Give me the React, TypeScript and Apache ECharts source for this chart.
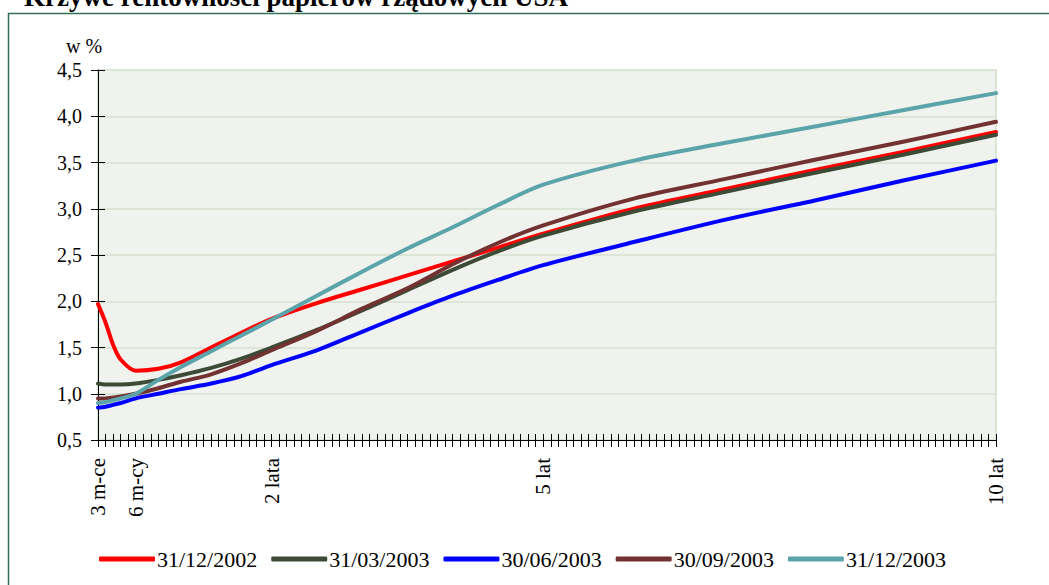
import React, { useEffect, useRef } from "react";
import * as echarts from "echarts";

const TITLE = "Krzywe rentowności papierów rządowych USA";
const UNIT = "w %";

const seriesNames = ["31/12/2002", "31/03/2003", "30/06/2003", "30/09/2003", "31/12/2003"];
const seriesColors = ["#ff0000", "#3d4a35", "#0000ff", "#733232", "#5ba4aa"];

// positions along the maturity axis (one step per tick)
const positions = [0, 1, 2, 3, 5, 8, 11, 15, 19, 23, 29, 35, 41, 47, 53, 59, 71, 83, 95, 107, 119];

const y2002_12 = [1.97, 1.77, 1.53, 1.37, 1.25, 1.27, 1.34, 1.5, 1.66, 1.81, 1.98, 2.13, 2.28, 2.43, 2.58, 2.73, 3.0, 3.21, 3.42, 3.62, 3.83];
const y2003_03 = [1.11, 1.1, 1.1, 1.1, 1.11, 1.15, 1.2, 1.28, 1.38, 1.5, 1.69, 1.9, 2.12, 2.34, 2.54, 2.71, 2.97, 3.18, 3.39, 3.59, 3.8];
const y2003_06 = [0.85, 0.86, 0.88, 0.9, 0.95, 1.0, 1.05, 1.11, 1.19, 1.31, 1.47, 1.67, 1.87, 2.06, 2.23, 2.39, 2.64, 2.88, 3.09, 3.31, 3.52];
const y2003_09 = [0.95, 0.95, 0.96, 0.97, 1.0, 1.06, 1.13, 1.21, 1.33, 1.47, 1.68, 1.92, 2.14, 2.4, 2.63, 2.82, 3.11, 3.32, 3.53, 3.73, 3.94];
const y2003_12 = [0.9, 0.91, 0.93, 0.95, 1.0, 1.15, 1.29, 1.46, 1.63, 1.8, 2.06, 2.32, 2.57, 2.8, 3.04, 3.26, 3.52, 3.71, 3.89, 4.07, 4.25];

const seriesValues = [y2002_12, y2003_03, y2003_06, y2003_09, y2003_12];

const tickLabelPositions = [0, 5, 23, 59, 119];
const tickLabelTexts = ["3 m-ce", "6 m-cy", "2 lata", "5 lat", "10 lat"];

const X_MIN = 0;
const X_MAX = 119;
const Y_MIN = 0.5;
const Y_MAX = 4.5;
const Y_STEP = 0.5;

const FONT = "Liberation Serif, Times New Roman, serif";

export default function App() {
  const ref = useRef<HTMLDivElement>(null);

  useEffect(() => {
    if (!ref.current) return;
    const chart = echarts.init(ref.current, undefined, { renderer: "svg" });

    const xLabel = (v: number) => {
      const i = tickLabelPositions.indexOf(Math.round(v));
      return i >= 0 ? tickLabelTexts[i] : "";
    };

    const option: any = {
      animation: false,
      backgroundColor: "#ffffff",
      textStyle: { fontFamily: FONT },
      grid: {
        left: 98,
        right: 53,
        top: 70,
        bottom: 145,
        show: true,
        backgroundColor: "#f0f2ee",
        borderColor: "#dde4d8",
        borderWidth: 2,
      },
      graphic: [
        {
          type: "rect",
          shape: { x: 8.5, y: 13.5, width: 1200, height: 700 },
          style: { fill: "none", stroke: "#336f57", lineWidth: 1.5 },
          z: 10,
        },
        {
          type: "text",
          x: 24,
          y: -3,
          style: {
            text: TITLE,
            fontFamily: FONT,
            fontWeight: "bold",
            fontSize: 27,
            fill: "#000",
            verticalAlign: "middle",
          },
        },
        {
          type: "text",
          x: 66,
          y: 46,
          style: {
            text: UNIT,
            fontFamily: FONT,
            fontSize: 20,
            fill: "#000",
            verticalAlign: "middle",
          },
        },
      ],
      legend: {
        left: 99,
        top: 548,
        padding: 0,
        itemWidth: 56,
        itemHeight: 5,
        itemGap: 14,
        icon: "roundRect",
        textStyle: { fontFamily: FONT, fontSize: 22, color: "#000", padding: [0, 0, 0, -3] },
        data: seriesNames,
      },
      xAxis: [
        {
          type: "value",
          min: X_MIN,
          max: X_MAX,
          interval: 1,
          position: "bottom",
          axisLine: { show: true, lineStyle: { color: "#000", width: 1 } },
          axisTick: { show: true, length: 7, lineStyle: { color: "#000", width: 1 } },
          axisLabel: {
            rotate: 90,
            margin: 18,
            formatter: xLabel,
            fontFamily: FONT,
            fontSize: 21,
            color: "#000",
            showMinLabel: true,
            showMaxLabel: true,
          },
          splitLine: { show: false },
        },
        {
          type: "value",
          min: X_MIN,
          max: X_MAX,
          interval: 1,
          position: "bottom",
          axisLine: { show: false },
          axisTick: { show: true, inside: true, length: 6, lineStyle: { color: "#000", width: 1 } },
          axisLabel: { show: false },
          splitLine: { show: false },
        },
      ],
      yAxis: [
        {
          type: "value",
          min: Y_MIN,
          max: Y_MAX,
          interval: Y_STEP,
          position: "left",
          axisLine: { show: true, lineStyle: { color: "#000", width: 1 } },
          axisTick: { show: true, length: 7, lineStyle: { color: "#000", width: 1 } },
          axisLabel: {
            margin: 16,
            formatter: (v: number) => v.toFixed(1).replace(".", ","),
            fontFamily: FONT,
            fontSize: 20,
            color: "#000",
          },
          splitLine: { show: true, lineStyle: { color: "#dde4d8", width: 2 } },
        },
        {
          type: "value",
          min: Y_MIN,
          max: Y_MAX,
          interval: Y_STEP,
          position: "left",
          axisLine: { show: false },
          axisTick: { show: true, inside: true, length: 7, lineStyle: { color: "#000", width: 1 } },
          axisLabel: { show: false },
          splitLine: { show: false },
        },
      ],
      series: seriesNames.map((name, si) => ({
        name,
        type: "line",
        xAxisIndex: 0,
        yAxisIndex: 0,
        smooth: 0.3,
        symbol: "none",
        color: seriesColors[si],
        lineStyle: { width: 4, color: seriesColors[si], cap: "round", join: "round" },
        itemStyle: { color: seriesColors[si] },
        data: positions.map((p, i) => [p, seriesValues[si][i]]),
      })),
    };

    chart.setOption(option);
    return () => chart.dispose();
  }, []);

  return (
    <div
      ref={ref}
      style={{ position: "fixed", left: 0, top: 0, width: 1049, height: 585 }}
    />
  );
}
